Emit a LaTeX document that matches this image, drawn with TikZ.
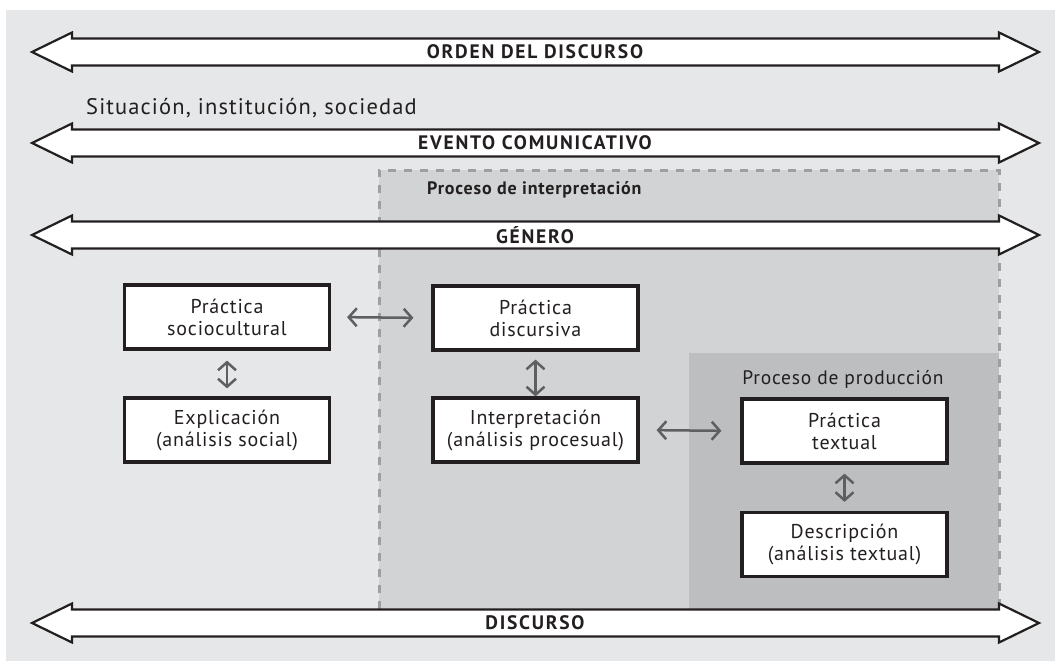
\documentclass[tikz,border=0pt]{standalone}
\usepackage{fontspec}
\setmainfont{PT Sans}
\usetikzlibrary{arrows.meta}
\definecolor{bgc}{HTML}{E6E7E8}
\definecolor{interpc}{HTML}{D1D3D4}
\definecolor{prodc}{HTML}{BCBEC0}
\definecolor{dashc}{HTML}{9D9FA2}
\definecolor{inkc}{HTML}{231F20}
\definecolor{arrc}{HTML}{5E5F61}
\definecolor{txtc}{HTML}{231F20}
\tikzset{
  bigarr/.style={draw=inkc, line width=2.2pt, fill=white, line join=miter},
  biglabel/.style={font=\fontsize{19.5}{21}\selectfont\bfseries\addfontfeatures{LetterSpace=9}, text=txtc, inner sep=0pt},
  procbox/.style={draw=inkc, line width=3.2pt, fill=white, minimum width=205pt, minimum height=64pt,
    align=center, font=\fontsize{20}{22}\selectfont\addfontfeatures{LetterSpace=4}, text=txtc, inner sep=0pt},
  smallarr/.style={draw=arrc, line width=2.5pt, {Straight Barb[length=8pt,width=18pt,line width=2.5pt]}-{Straight Barb[length=8pt,width=18pt,line width=2.5pt]}},
  dashedge/.style={draw=dashc, line width=3pt, dash pattern=on 8pt off 8pt},
}
\newcommand\bigarrowat[1]{%
  \draw[bigarr] (32,#1) -- (72,#1-19.5) -- (72,#1-13.5) -- (999,#1-13.5) -- (999,#1-19.5)
    -- (1039,#1) -- (999,#1+19.5) -- (999,#1+13.5) -- (72,#1+13.5) -- (72,#1+19.5) -- cycle;}
\begin{document}
\begin{tikzpicture}[x=1pt,y=-1pt]
\useasboundingbox (0,0) rectangle (1055,661);
\fill[bgc] (6,10) rectangle (1055,661);
% regions
\fill[interpc] (379,170) rectangle (999,609);
\fill[prodc] (689,353) rectangle (999,609);
\draw[dashedge] (379,609) -- (379,170) -- (999,170) -- (999,609);
% big arrows
\bigarrowat{52}
\bigarrowat{143}
\bigarrowat{235}
\bigarrowat{623}
\node[biglabel] (orden) at (535,52) {ORDEN DEL DISCURSO};
\node[biglabel] (evento) at (535,143) {EVENTO COMUNICATIVO};
\node[biglabel] (genero) at (535,235) {GÉNERO};
\node[biglabel] (discurso) at (535,623) {DISCURSO};
\node[anchor=west, inner sep=0pt, font=\fontsize{22.5}{25}\selectfont\addfontfeatures{LetterSpace=5}, text=txtc] (situ) at (86,108) {Situación, institución, sociedad};
\node[anchor=west, inner sep=0pt, font=\fontsize{18}{20}\selectfont\bfseries\addfontfeatures{LetterSpace=4.5}, text=txtc] (pint) at (427,190) {Proceso de interpretación};
\node[inner sep=0pt, font=\fontsize{19.5}{21}\selectfont\addfontfeatures{LetterSpace=4}, text=txtc] (pprod) at (843,379) {Proceso de producción};
% boxes
\node[procbox] (soc) at (227,317) {Práctica\\sociocultural};
\node[procbox] (expl) at (227,430) {Explicación\\(análisis social)};
\node[procbox] (disc) at (535.5,318) {Práctica\\discursiva};
\node[procbox] (interp) at (535.5,430) {Interpretación\\(análisis procesual)};
\node[procbox] (textp) at (844.5,431) {Práctica\\textual};
\node[procbox] (desc) at (844.5,544.5) {Descripción\\(análisis textual)};
% small arrows
\draw[smallarr, shorten <=16pt, shorten >=18pt] (soc.east) -- (disc.west);
\draw[smallarr, shorten <=10pt, shorten >=8pt] (soc.south) -- (expl.north);
\draw[smallarr, shorten <=8pt, shorten >=0pt] (disc.south) -- (interp.north);
\draw[smallarr, shorten <=17pt, shorten >=19pt] (interp.east) -- (textp.west);
\draw[smallarr, shorten <=9pt, shorten >=9pt] (textp.south) -- (desc.north);
\end{tikzpicture}
\end{document}
